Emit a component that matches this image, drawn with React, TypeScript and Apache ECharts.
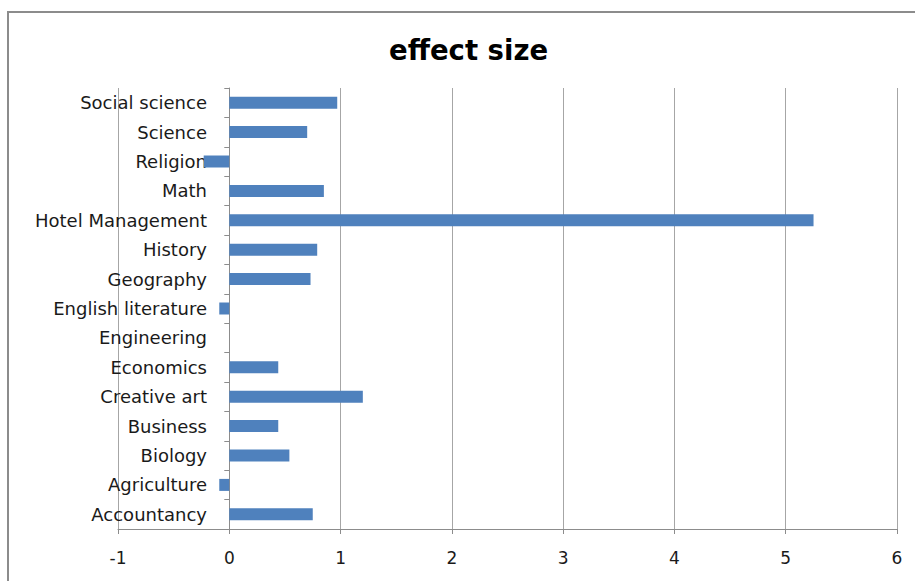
import React, { useEffect, useRef } from "react";
import * as echarts from "echarts";

// Subjects, listed bottom to top as they appear on the category axis
const subjects = [
  "Accountancy",
  "Agriculture",
  "Biology",
  "Business",
  "Creative art",
  "Economics",
  "Engineering",
  "English literature",
  "Geography",
  "History",
  "Hotel Management",
  "Math",
  "Religion",
  "Science",
  "Social science",
];

// Effect size for each subject
const effectSizes = [
  0.75, -0.09, 0.54, 0.44, 1.2, 0.44, 0, -0.09, 0.73, 0.79, 5.25, 0.85, -0.23, 0.7, 0.97,
];

const axisMin = -1;
const axisMax = 6;
const axisStep = 1;

const FONT = "'DejaVu Sans', sans-serif";

export default function App() {
  const ref = useRef<HTMLDivElement>(null);

  useEffect(() => {
    if (!ref.current) return;
    const chart = echarts.init(ref.current, null, { renderer: "svg" });
    chart.setOption({
      animation: false,
      backgroundColor: "#ffffff",
      title: {
        text: "effect size",
        left: 384,
        top: 31,
        textStyle: {
          fontFamily: FONT,
          fontSize: 27.5,
          fontWeight: "bold",
          color: "#000000",
        },
      },
      graphic: [
        {
          type: "rect",
          shape: { x: 8, y: 12, width: 930, height: 620 },
          style: { fill: "none", stroke: "#8c8c8c", lineWidth: 2 },
          silent: true,
        },
      ],
      grid: {
        left: 118,
        right: 18,
        top: 88,
        bottom: 52,
        containLabel: false,
        outerBoundsMode: "none",
      },
      xAxis: {
        type: "value",
        min: axisMin,
        max: axisMax,
        interval: axisStep,
        axisLine: { show: true, lineStyle: { color: "#8c8c8c", width: 1 } },
        axisTick: { show: true, length: 5, lineStyle: { color: "#8c8c8c" } },
        splitLine: { show: true, lineStyle: { color: "#a6a6a6", width: 1 } },
        axisLabel: {
          margin: 20,
          fontFamily: FONT,
          fontSize: 17,
          color: "#1a1a1a",
        },
      },
      yAxis: {
        type: "category",
        data: subjects,
        axisLine: {
          show: true,
          onZero: true,
          lineStyle: { color: "#8c8c8c", width: 1 },
        },
        axisTick: { show: true, length: 5, lineStyle: { color: "#8c8c8c" } },
        axisLabel: {
          // labels end just left of the zero line
          margin: -89,
          fontFamily: FONT,
          fontSize: 18,
          color: "#1a1a1a",
        },
        splitLine: { show: false },
      },
      series: [
        {
          type: "bar",
          data: effectSizes,
          barWidth: 12,
          itemStyle: { color: "#4f81bd" },
        },
      ],
    });
    return () => chart.dispose();
  }, []);

  return (
    <div
      ref={ref}
      style={{ position: "absolute", left: 0, top: 0, width: 915, height: 581 }}
    />
  );
}
